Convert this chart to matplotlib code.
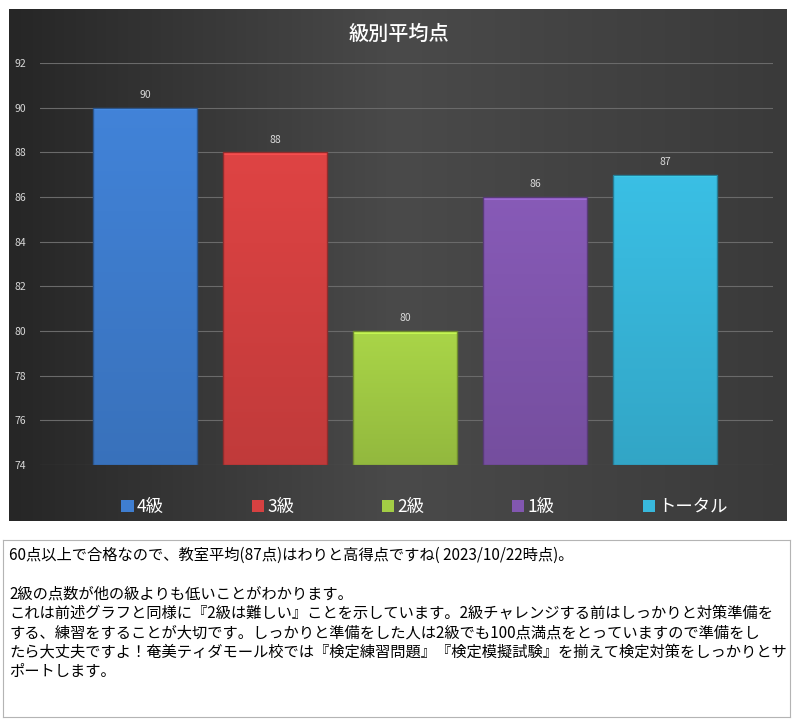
import matplotlib.pyplot as plt
import numpy as np
from matplotlib.patches import Rectangle, Patch
from matplotlib.colors import to_rgb

plt.rcParams['font.family'] = ['Noto Sans CJK JP', 'DejaVu Sans']

# data
categories = ['4級', '3級', '2級', '1級', 'トータル']
scores = [90, 88, 80, 86, 87]
bar_colors = ['#3f7ed0', '#d64141', '#a3cd45', '#8257b0', '#38b8dc']
title = '級別平均点'
y_ticks = [74, 76, 78, 80, 82, 84, 86, 88, 90, 92]
note_lines = [
    '60点以上で合格なので、教室平均(87点)はわりと高得点ですね( 2023/10/22時点)。',
    '',
    '2級の点数が他の級よりも低いことがわかります。',
    'これは前述グラフと同様に『2級は難しい』ことを示しています。2級チャレンジする前はしっかりと対策準備を',
    'する、練習をすることが大切です。しっかりと準備をした人は2級でも100点満点をとっていますので準備をし',
    'たら大丈夫ですよ！奄美ティダモール校では『検定練習問題』『検定模擬試験』を揃えて検定対策をしっかりとサ',
    'ポートします。',
]

fig = plt.figure(figsize=(7.98, 7.24), dpi=100)

# dark chart panel with a horizontal gradient
panel = fig.add_axes([0.0113, 0.2804, 0.9737, 0.7072])
grad = np.linspace(0, 1, 256)
grad = np.vstack([grad, grad])
panel.imshow(grad, aspect='auto', cmap=plt.cm.colors.LinearSegmentedColormap.from_list(
    'bg', ['#262626', '#4a4a4a', '#3a3a3a']), extent=[0, 1, 0, 1])
panel.set_axis_off()

ax = fig.add_axes([0.0501, 0.3577, 0.9185, 0.5552])
ax.patch.set_alpha(0)
x = np.arange(len(categories))
bars = ax.bar(x, [s - y_ticks[0] for s in scores], bottom=y_ticks[0], width=0.8,
              color=bar_colors, edgecolor='none', zorder=2)

# light vertical shading inside each bar
for b, c in zip(bars, bar_colors):
    r, g, bl = to_rgb(c)
    top = np.array([min(1, r * 1.04), min(1, g * 1.04), min(1, bl * 1.04)])
    bot = np.array([r * 0.9, g * 0.9, bl * 0.9])
    t = np.linspace(0, 1, 100)[:, None]
    img = (top * (1 - t) + bot * t)[:, None, :]
    x0, y0, w, h = b.get_x(), b.get_y(), b.get_width(), b.get_height()
    im = ax.imshow(img, extent=[x0, x0 + w, y0, y0 + h], aspect='auto', zorder=3)
    im.set_clip_path(b)
    lite = np.minimum(1, np.array([r, g, bl]) * 1.25)
    ax.add_patch(Rectangle((x0, y0 + h - 0.12), w, 0.12, color=lite, alpha=0.8, zorder=4, lw=0))
    ax.add_patch(Rectangle((x0, y0), w, h, fill=False, edgecolor=bot * 0.75, lw=1, zorder=5))

for xi, s in zip(x, scores):
    ax.text(xi, s + 0.35, str(s), ha='center', va='bottom', color='#d8d8d8', fontsize=7.5)

ax.set_xlim(-0.808, 4.83)
ax.set_ylim(74, 92)
ax.set_yticks(y_ticks)
ax.yaxis.grid(True, color='#6a6a6a', lw=0.8, zorder=0)
ax.set_axisbelow(True)
ax.set_xticks([])
ax.tick_params(axis='y', length=0, colors='#d8d8d8', labelsize=7.5, pad=10)
for sp in ax.spines.values():
    sp.set_visible(False)

fig.text(0.5, 0.952, title, ha='center', va='center', color='white', fontsize=14.5,
         fontweight='medium')

handles = [Patch(facecolor=c, edgecolor='none') for c in bar_colors]
leg = fig.legend(handles, categories, loc='center', bbox_to_anchor=(0.532, 0.2997), ncol=5,
                 frameon=False, fontsize=12.5, labelcolor='white', handlelength=0.7,
                 handleheight=0.7, handletextpad=0.2, columnspacing=5.05)

# note box
box = fig.add_axes([0.0038, 0.0097, 0.9862, 0.2445])
box.set_xticks([])
box.set_yticks([])
for sp in box.spines.values():
    sp.set_color('#b4b4b4')
box.text(0.008, 0.962, '\n'.join(note_lines), ha='left', va='top', fontsize=11,
         color='#000000', linespacing=1.18, transform=box.transAxes)

fig.savefig('out.png', dpi=100)
